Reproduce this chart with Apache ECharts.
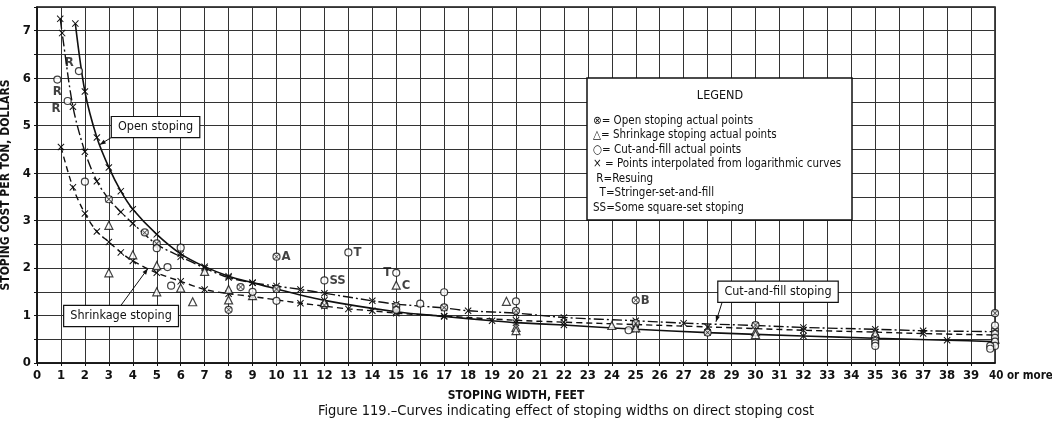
<!DOCTYPE html>
<html><head><meta charset="utf-8">
<script src="https://cdn.jsdelivr.net/npm/echarts@6/dist/echarts.min.js"></script>
<style>html,body{margin:0;padding:0;background:#fff}#c{width:1052px;height:424px}</style>
</head><body><div id="c"></div>
<script>
// ---------- DATA ----------
const xLabels = ['0','1','2','3','4','5','6','7','8','9','10','11','12','13','14','15','16','17','18','19','20',
  '21','22','23','24','25','26','27','28','29','30','31','32','33','34','35','36','37','38','39','40 or more'];
const yLabels = ['0','1','2','3','4','5','6','7'];

// curves (x = stoping width ft, y = cost $/ton), points interpolated from logarithmic curves
const openCurve = [[1.6,7.15],[2,5.72],[2.5,4.75],[3,4.12],[3.5,3.62],[4,3.24],[5,2.71],[6,2.3],[7,2.03],[8,1.83],[9,1.69],[10,1.56],[12,1.32],[15,1.08],[17,0.98],[19,0.89],[20,0.85],[22,0.8],[25,0.71],[28,0.64],[32,0.57],[35,0.52],[38,0.48],[40,0.45]];
const cutFillCurve = [[0.97,7.25],[1.05,6.95],[1.5,5.4],[2,4.45],[2.5,3.83],[3,3.45],[3.5,3.18],[4,2.94],[5,2.5],[6,2.24],[7,2.0],[8,1.8],[9,1.69],[10,1.62],[11,1.55],[12,1.47],[14,1.31],[15,1.24],[17,1.16],[18,1.1],[20,1.05],[22,0.96],[25,0.89],[27,0.84],[30,0.79],[32,0.75],[35,0.71],[37,0.68],[40,0.66]];
const shrinkCurve = [[1.0,4.55],[1.5,3.7],[2,3.15],[2.5,2.77],[3,2.55],[3.5,2.33],[4,2.15],[5,1.9],[6,1.72],[7,1.55],[8,1.46],[9,1.4],[11,1.26],[12,1.2],[13,1.14],[14,1.1],[15,1.05],[17,0.99],[20,0.9],[22,0.86],[25,0.81],[28,0.76],[32,0.69],[35,0.65],[37,0.62],[40,0.59]];

// actual points [x, y, note]
const openActual = [[3,3.45],[4.5,2.75],[5,2.52],[8,1.12],[8.5,1.6],[10,2.24,'A'],[10,1.56],[12,1.22],[15,1.2],[17,1.17],[20,1.1],[25,1.32,'B'],[25,0.84],[28,0.64],[30,0.8],[35,0.55],[40,1.05],[40,0.7]];
const shrinkActual = [[3,2.9],[3,1.9],[4,2.28],[5,2.05],[5,1.5],[6,1.58],[6.5,1.29],[7,1.93],[8,1.55],[8,1.33],[9,1.42],[12,1.27],[15,1.64,'C'],[19.6,1.3],[20,0.75],[20,0.68],[24,0.79],[25,0.74],[30,0.66],[30,0.6],[35,0.62],[40,0.5]];
const cutFillActual = [[0.85,5.97,'R'],[1.28,5.52,'R'],[1.75,6.15,'R'],[2,3.82],[5,2.42],[5.45,2.02],[5.6,1.63],[6,2.43],[9,1.5],[10,1.31],[12,1.74,'SS'],[13,2.33,'T'],[15,1.9,'T'],[15,1.12],[16,1.25],[17,1.49],[20,1.3],[24.7,0.69],[35,0.48],[35,0.42],[35,0.36],[40,0.79],[40,0.62],[40,0.53],[40,0.45],[40,0.36],[39.8,0.36],[39.8,0.3]];

const legendLines = ['LEGEND','\u2297= Open stoping actual points','\u25B3= Shrinkage stoping actual points','\u25CB= Cut-and-fill actual points',
  '\u00D7 = Points interpolated from logarithmic curves',' R=Resuing','  T=Stringer-set-and-fill','SS=Some square-set stoping'];
const curveNames = ['Open stoping','Shrinkage stoping','Cut-and-fill stoping'];
const caption = 'Figure 119.\u2013Curves indicating effect of stoping widths on direct stoping cost';

// ---------- STYLE ----------
const FONT = "'Liberation Sans Narrow','DejaVu Sans Condensed',sans-serif";
const INK = '#111';
const XPATH = 'path://M0,1L1,0L5,4L9,0L10,1L6,5L10,9L9,10L5,6L1,10L0,9L4,5Z';
const XMAX = xLabels.length - 1;

const chart = echarts.init(document.getElementById('c'), null, {renderer:'canvas'});

function notePos(p){
  if (p[2]==='R') { if (p[0]<1) return {position:'bottom',offset:[0,-1]}; if (p[0]<1.5) return {position:'left',offset:[-1,8]}; return {position:'left',offset:[1,-8]}; }
  if (p[2]==='T' && p[0]===15) return {position:'left',offset:[1,0]};
  return {position:'right',offset:[-1,0]};
}
function pts(arr){
  return arr.map(p => {
    const o = {value:[p[0],p[1]]};
    if (p[2]) { const lp = notePos(p); o.label = {show:true, formatter:p[2], position:lp.position, offset:lp.offset,
      color:INK, fontFamily:FONT, fontSize:13, fontWeight:'bold', distance:2}; }
    return o;
  });
}
function lineSeries(data, type, w){
  return {type:'line', data:data, smooth:0.3, symbol:XPATH, symbolSize:7,
    itemStyle:{color:INK}, lineStyle:{color:INK, width:w, type:type}, z:3, silent:true, animation:false};
}

const option = {
  backgroundColor:'#fff',
  animation:false,
  grid:{left:37, right:57, top:7, bottom:61, show:true, borderColor:INK, borderWidth:1.5, containLabel:false, outerBoundsMode:'none'},
  xAxis:{type:'value', min:0, max:XMAX, interval:1,
    name:'STOPING WIDTH, FEET', nameLocation:'middle', nameGap:27,
    nameTextStyle:{fontFamily:FONT, fontSize:12, fontWeight:'bold', color:INK},
    axisLine:{lineStyle:{color:INK, width:1.5}}, axisTick:{length:3, lineStyle:{color:INK}},
    axisLabel:{formatter:v=>xLabels[Math.round(v)], color:INK, fontFamily:FONT, fontSize:13, fontWeight:'bold', margin:6,
      showMaxLabel:false, hideOverlap:false},
    splitLine:{lineStyle:{color:'#333', width:1}}},
  yAxis:{type:'value', min:0, max:7.5, interval:0.5,
    name:'STOPING COST PER TON, DOLLARS', nameLocation:'middle', nameGap:22,
    nameTextStyle:{fontFamily:FONT, fontSize:12, fontWeight:'bold', color:INK},
    axisLine:{lineStyle:{color:INK, width:1.5}}, axisTick:{length:3, lineStyle:{color:INK}},
    axisLabel:{formatter:v=>Number.isInteger(v)?yLabels[v]:'', color:INK, fontFamily:FONT, fontSize:13, fontWeight:'bold', margin:6},
    splitLine:{lineStyle:{color:'#333', width:1}}},
  series:[
    lineSeries(openCurve, 'solid', 1.6),
    lineSeries(shrinkCurve, [6,4], 1.4),
    lineSeries(cutFillCurve, [10,3,2,3], 1.4),
    {type:'scatter', data:pts(openActual), symbol:'circle', symbolSize:7, z:5,
      itemStyle:{color:'#fff', borderColor:INK, borderWidth:1.2}},
    {type:'scatter', data:openActual.map(p=>[p[0],p[1]]), symbol:XPATH, symbolSize:5, z:6, itemStyle:{color:INK}, silent:true},
    {type:'scatter', data:pts(shrinkActual), symbol:'triangle', symbolSize:8, z:5,
      itemStyle:{color:'#fff', borderColor:INK, borderWidth:1.2}},
    {type:'scatter', data:pts(cutFillActual), symbol:'circle', symbolSize:7, z:5,
      itemStyle:{color:'#fff', borderColor:INK, borderWidth:1.2}}
  ]
};
chart.setOption(option);

// ---------- annotations ----------
const annotations = [
  {text:curveNames[0], at:[4.95,4.97], from:[3.2,4.78], to:[2.62,4.6]},
  {text:curveNames[1], at:[3.51,0.99], from:[3.47,1.19], to:[4.63,1.99]},
  {text:curveNames[2], at:[30.94,1.5], from:[28.6,1.27], to:[28.35,0.87]}
];
const g = [];
annotations.forEach(a => {
  const c = chart.convertToPixel({gridIndex:0}, a.at);
  const p0 = chart.convertToPixel({gridIndex:0}, a.from);
  const p1 = chart.convertToPixel({gridIndex:0}, a.to);
  const dx = p1[0]-p0[0], dy = p1[1]-p0[1], L = Math.hypot(dx,dy), ux = dx/L, uy = dy/L;
  g.push({type:'line', z:10, shape:{x1:p0[0],y1:p0[1],x2:p1[0],y2:p1[1]}, style:{stroke:INK, lineWidth:1}});
  g.push({type:'polygon', z:10, shape:{points:[[p1[0],p1[1]],[p1[0]-ux*6+uy*2.2,p1[1]-uy*6-ux*2.2],[p1[0]-ux*6-uy*2.2,p1[1]-uy*6+ux*2.2]]}, style:{fill:INK}});
  g.push({type:'text', z:11, x:c[0], y:c[1], style:{text:a.text, align:'center', verticalAlign:'middle',
    font:'12.5px '+FONT, fill:INK, backgroundColor:'#fff', borderColor:INK, borderWidth:1.2, padding:[4,6,3,6]}});
});
// last x tick label ("40 or more"), placed at the axis max tick
const pMax = chart.convertToPixel({gridIndex:0}, [XMAX, 0]);
g.push({type:'text', z:11, x:pMax[0]-6, y:pMax[1]+13, style:{text:xLabels[XMAX], align:'left', verticalAlign:'middle',
  font:'bold 11.5px '+FONT, fill:INK}});
// legend box
g.push({type:'rect', z:10, shape:{x:587, y:78, width:265, height:142}, style:{fill:'#fff', stroke:INK, lineWidth:1.5}});
g.push({type:'text', z:11, x:720, y:96, style:{text:legendLines[0], align:'center', verticalAlign:'middle', font:'12.5px '+FONT, fill:INK}});
legendLines.slice(1).forEach((t,i) => {
  g.push({type:'text', z:11, x:593, y:121+i*14.5, style:{text:t, align:'left', verticalAlign:'middle', font:'11.5px '+FONT, fill:INK}});
});
// caption
g.push({type:'text', z:11, x:566, y:411, style:{text:caption, align:'center', verticalAlign:'middle', font:'14.5px '+FONT, fill:INK}});
chart.setOption({graphic:g});
</script></body></html>
